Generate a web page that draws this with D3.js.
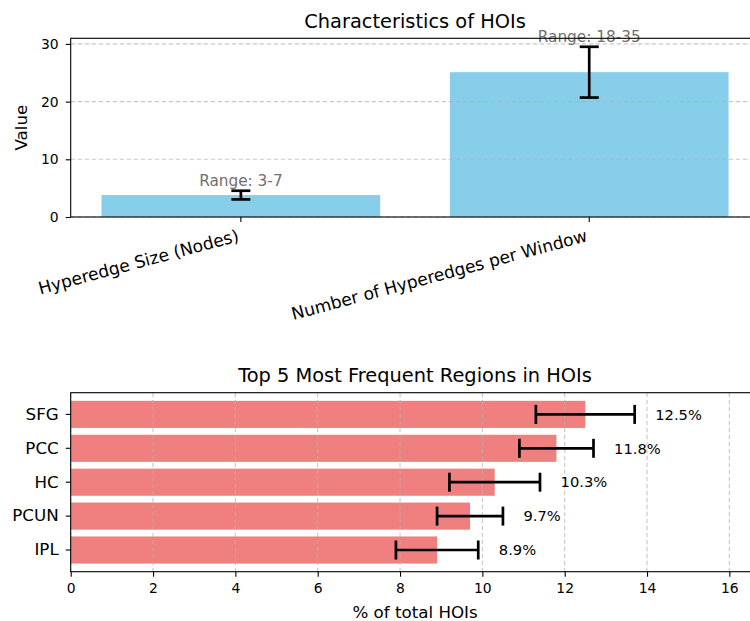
<!DOCTYPE html>
<html>
<head>
<meta charset="utf-8">
<script src="https://cdn.jsdelivr.net/npm/d3@7"></script>
<style>
  body { margin: 0; background: #fff; }
  text { font-family: "DejaVu Sans", sans-serif; }
</style>
</head>
<body>
<script>
const topCategories = ["Hyperedge Size (Nodes)", "Number of Hyperedges per Window"];
const topValues = [3.8, 25.1];
const topErrors = [0.75, 4.4];
const topRangeLabels = ["Range: 3-7", "Range: 18-35"];
const topTicks = [0, 10, 20, 30];

const regions = ["SFG", "PCC", "HC", "PCUN", "IPL"];
const regionValues = [12.5, 11.8, 10.3, 9.7, 8.9];
const regionErrors = [1.2, 0.9, 1.1, 0.8, 1.0];
const regionTicks = [0, 2, 4, 6, 8, 10, 12, 14, 16];

const width = 750;
const height = 621;
const left = 70.7;
const right = 759.4;
const capHalf = 9.5;

const svg = d3.select("body")
  .append("svg")
  .attr("width", width)
  .attr("height", height);

/* ---------------- top panel ---------------- */
const t = { top: 38.3, bottom: 217 };

const xTop = d3.scaleBand()
  .domain(topCategories)
  .range([left, right])
  .paddingInner(0.2)
  .paddingOuter(0.0885);

const yTop = d3.scaleLinear()
  .domain([0, 30.97])
  .range([t.bottom, t.top]);

const topG = svg.append("g");

topG.selectAll(".bar")
  .data(topCategories)
  .join("rect")
  .attr("x", d => xTop(d))
  .attr("y", (d, i) => yTop(topValues[i]))
  .attr("width", xTop.bandwidth())
  .attr("height", (d, i) => yTop(0) - yTop(topValues[i]))
  .attr("fill", "#87CEEB");

// grid sits over the bars, under the error bars
topG.selectAll(".grid")
  .data(topTicks)
  .join("line")
  .attr("x1", left)
  .attr("x2", right)
  .attr("y1", d => yTop(d))
  .attr("y2", d => yTop(d))
  .attr("stroke", "#b0b0b0")
  .attr("stroke-opacity", 0.7)
  .attr("stroke-width", 1.1)
  .attr("stroke-dasharray", "4.5,2.5");

topCategories.forEach((c, i) => {
  const cx = xTop(c) + xTop.bandwidth() / 2;
  const y1 = yTop(topValues[i] + topErrors[i]);
  const y2 = yTop(topValues[i] - topErrors[i]);
  const eb = topG.append("g")
    .attr("stroke", "black")
    .attr("stroke-width", 2.7);
  eb.append("line").attr("x1", cx).attr("x2", cx).attr("y1", y1).attr("y2", y2);
  eb.append("line").attr("x1", cx - capHalf).attr("x2", cx + capHalf).attr("y1", y1).attr("y2", y1);
  eb.append("line").attr("x1", cx - capHalf).attr("x2", cx + capHalf).attr("y1", y2).attr("y2", y2);

  topG.append("text")
    .attr("x", cx)
    .attr("y", y1 - 4.5)
    .attr("text-anchor", "middle")
    .style("font-size", "15.3px")
    .style("fill", "#707070")
    .text(topRangeLabels[i]);
});

const yAxisTop = topG.append("g")
  .attr("transform", `translate(${left},0)`)
  .call(d3.axisLeft(yTop).tickValues(topTicks).tickSize(5).tickPadding(7).tickFormat(d3.format("d")));
yAxisTop.select(".domain").remove();
yAxisTop.selectAll("line").attr("stroke-width", 1.1);
yAxisTop.selectAll("text").style("font-size", "13.9px").style("font-family", "DejaVu Sans");

const xAxisTop = topG.append("g")
  .attr("transform", `translate(0,${t.bottom})`)
  .call(d3.axisBottom(xTop).tickSize(5));
xAxisTop.select(".domain").remove();
xAxisTop.selectAll("line").attr("stroke-width", 1.1);
xAxisTop.selectAll("text")
  .attr("y", 0)
  .attr("dy", null)
  .attr("text-anchor", "end")
  .attr("transform", "translate(-1,24) rotate(-15)")
  .style("font-size", "17.1px")
  .style("font-family", "DejaVu Sans");

topG.append("rect")
  .attr("x", left)
  .attr("y", t.top)
  .attr("width", right - left)
  .attr("height", t.bottom - t.top)
  .attr("fill", "none")
  .attr("stroke", "black")
  .attr("stroke-width", 1.1);

topG.append("text")
  .attr("x", (left + right) / 2)
  .attr("y", 28.3)
  .attr("text-anchor", "middle")
  .style("font-size", "19.4px")
  .text("Characteristics of HOIs");

topG.append("text")
  .attr("transform", `translate(27,${(t.top + t.bottom) / 2}) rotate(-90)`)
  .attr("text-anchor", "middle")
  .style("font-size", "16.7px")
  .text("Value");

/* ---------------- bottom panel ---------------- */
const b = { top: 392.7, bottom: 571.7 };

const xBot = d3.scaleLinear()
  .domain([0, 16.73])
  .range([left, right]);

const yBot = d3.scaleBand()
  .domain(regions)
  .range([b.top, b.bottom])
  .paddingInner(0.2)
  .paddingOuter(0.24);

const botG = svg.append("g");

botG.selectAll(".hbar")
  .data(regions)
  .join("rect")
  .attr("x", xBot(0))
  .attr("y", d => yBot(d))
  .attr("width", (d, i) => xBot(regionValues[i]) - xBot(0))
  .attr("height", yBot.bandwidth())
  .attr("fill", "#F08080");

botG.selectAll(".vgrid")
  .data(regionTicks)
  .join("line")
  .attr("x1", d => xBot(d))
  .attr("x2", d => xBot(d))
  .attr("y1", b.top)
  .attr("y2", b.bottom)
  .attr("stroke", "#b0b0b0")
  .attr("stroke-opacity", 0.7)
  .attr("stroke-width", 1.1)
  .attr("stroke-dasharray", "4.5,2.5");

regions.forEach((r, i) => {
  const cy = yBot(r) + yBot.bandwidth() / 2;
  const x1 = xBot(regionValues[i] - regionErrors[i]);
  const x2 = xBot(regionValues[i] + regionErrors[i]);
  const eb = botG.append("g")
    .attr("stroke", "black")
    .attr("stroke-width", 2.7);
  eb.append("line").attr("x1", x1).attr("x2", x2).attr("y1", cy).attr("y2", cy);
  eb.append("line").attr("x1", x1).attr("x2", x1).attr("y1", cy - capHalf).attr("y2", cy + capHalf);
  eb.append("line").attr("x1", x2).attr("x2", x2).attr("y1", cy - capHalf).attr("y2", cy + capHalf);

  botG.append("text")
    .attr("x", xBot(regionValues[i] + regionErrors[i] + 0.5))
    .attr("y", cy)
    .attr("dy", "0.36em")
    .style("font-size", "14.7px")
    .text(regionValues[i].toFixed(1) + "%");
});

const yAxisBot = botG.append("g")
  .attr("transform", `translate(${left},0)`)
  .call(d3.axisLeft(yBot).tickSize(5).tickPadding(7));
yAxisBot.select(".domain").remove();
yAxisBot.selectAll("line").attr("stroke-width", 1.1);
yAxisBot.selectAll("text").style("font-size", "16.7px").style("font-family", "DejaVu Sans");

const xAxisBot = botG.append("g")
  .attr("transform", `translate(0,${b.bottom})`)
  .call(d3.axisBottom(xBot).tickValues(regionTicks).tickSize(5).tickPadding(6).tickFormat(d3.format("d")));
xAxisBot.select(".domain").remove();
xAxisBot.selectAll("line").attr("stroke-width", 1.1);
xAxisBot.selectAll("text").style("font-size", "13.9px").style("font-family", "DejaVu Sans");

botG.append("rect")
  .attr("x", left)
  .attr("y", b.top)
  .attr("width", right - left)
  .attr("height", b.bottom - b.top)
  .attr("fill", "none")
  .attr("stroke", "black")
  .attr("stroke-width", 1.1);

botG.append("text")
  .attr("x", (left + right) / 2)
  .attr("y", 382)
  .attr("text-anchor", "middle")
  .style("font-size", "19.4px")
  .text("Top 5 Most Frequent Regions in HOIs");

botG.append("text")
  .attr("x", (left + right) / 2)
  .attr("y", 617.5)
  .attr("text-anchor", "middle")
  .style("font-size", "16.7px")
  .text("% of total HOIs");
</script>
</body>
</html>
